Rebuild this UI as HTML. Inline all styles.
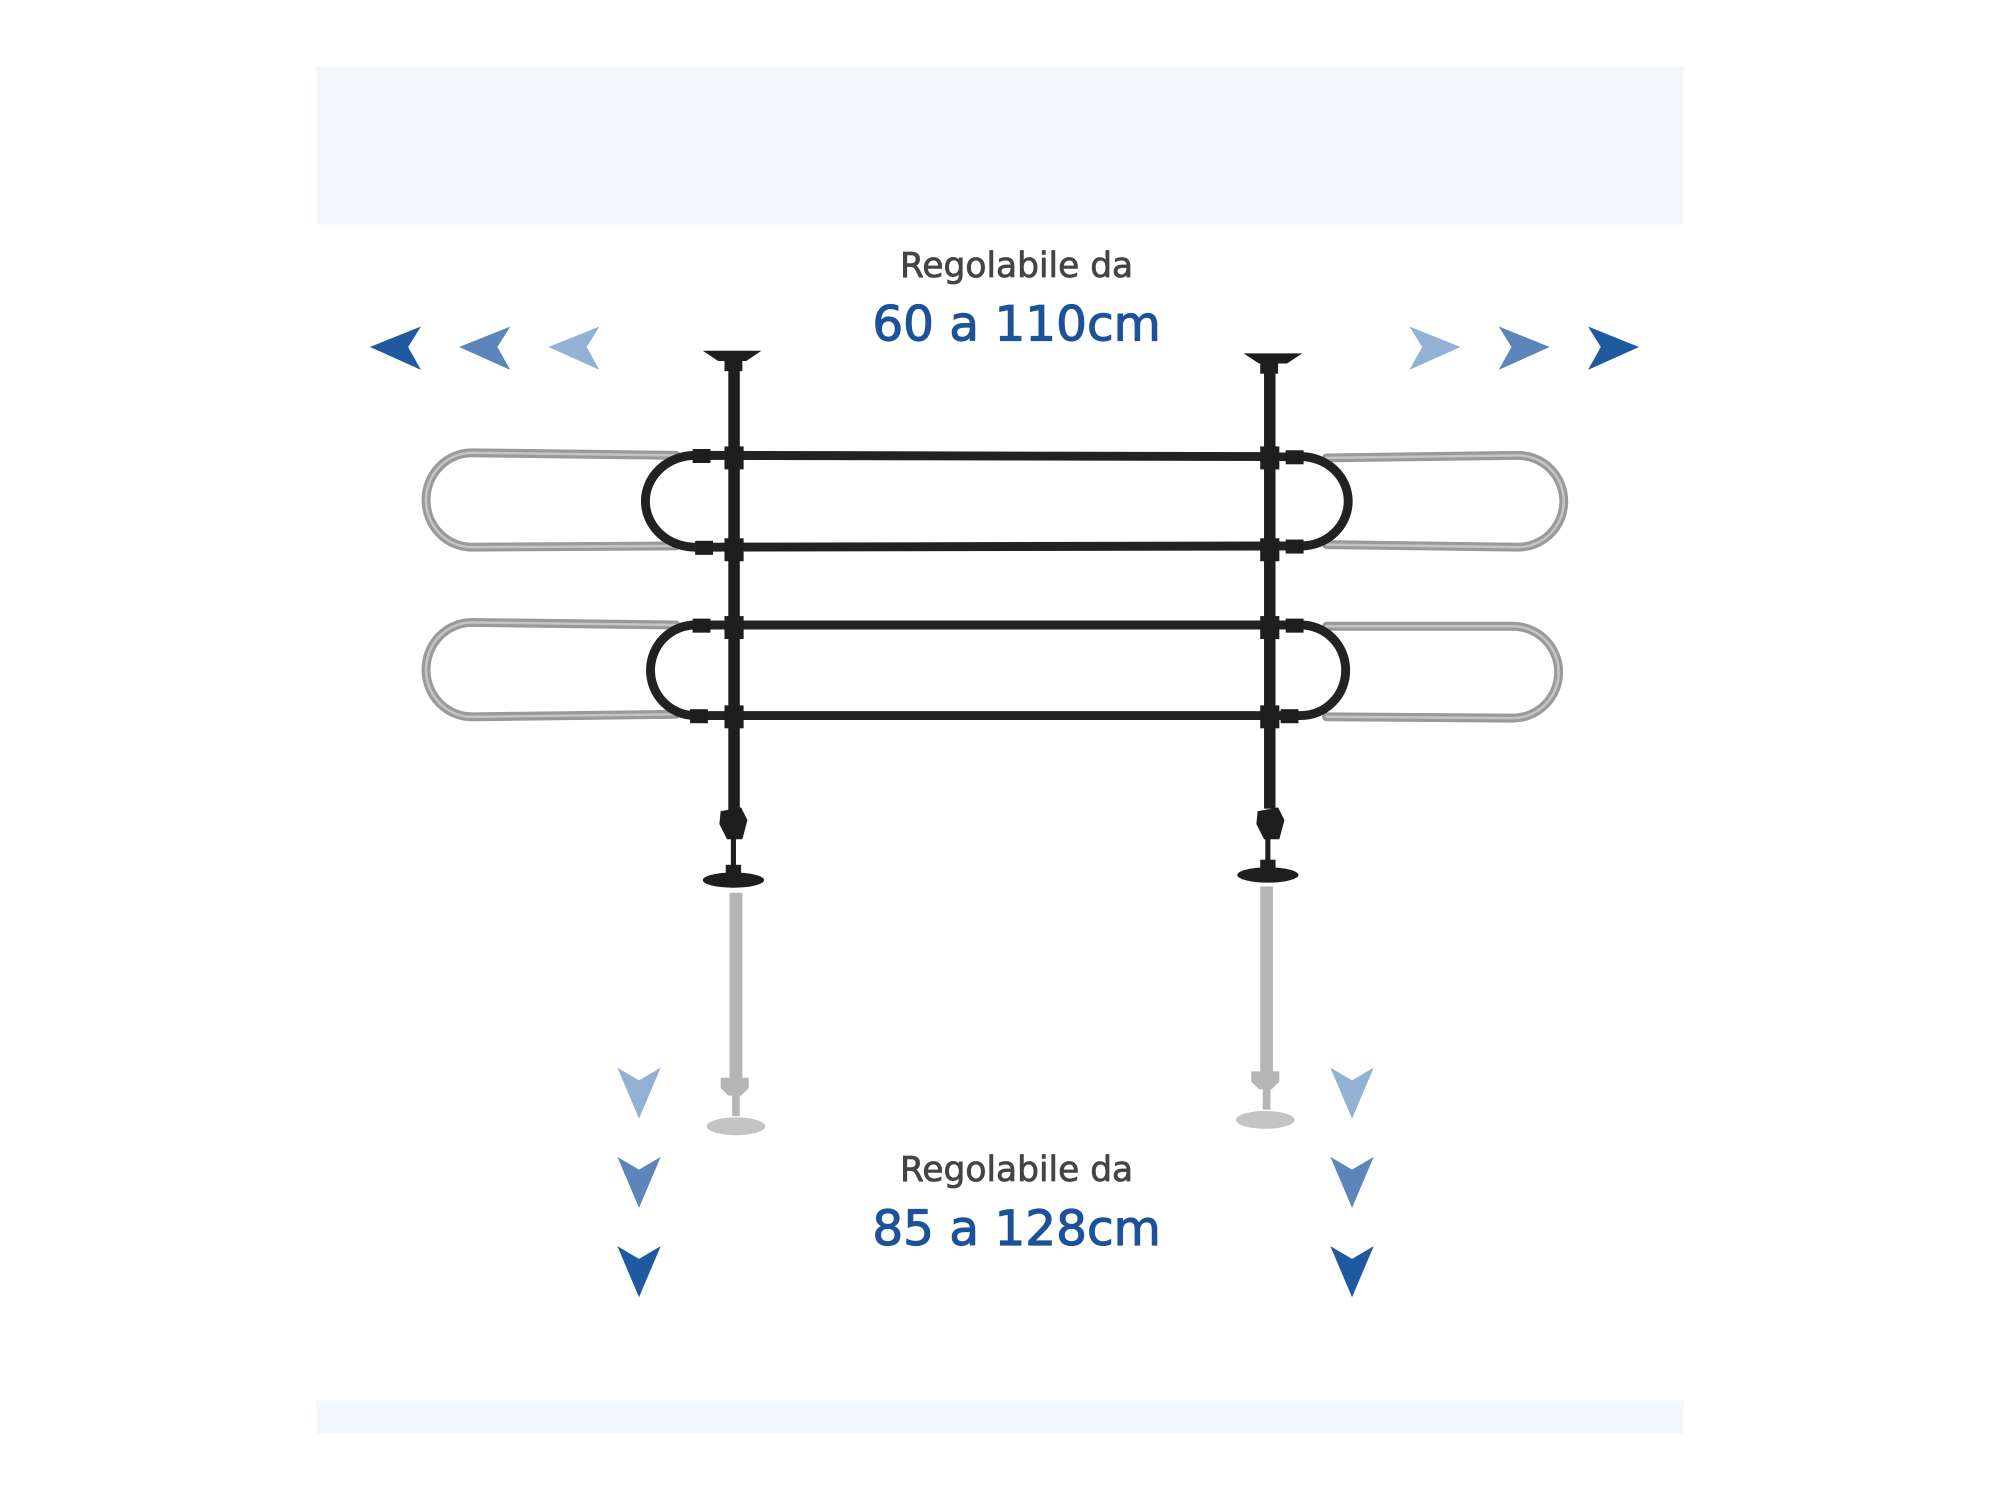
<!DOCTYPE html>
<html><head><style>
html,body{margin:0;padding:0;background:#fff;width:2000px;height:1500px;overflow:hidden}
svg{display:block}
text{font-family:"DejaVu Sans","Liberation Sans",sans-serif;text-anchor:middle}
</style></head><body>
<svg width="2000" height="1500" viewBox="0 0 1568 1176" xmlns="http://www.w3.org/2000/svg">
<rect x="248" y="52" width="1072" height="124" fill="#f2f7fc"/>
<rect x="248" y="1098" width="1072" height="26" fill="#f2f7fc"/>

<text x="797" y="217" font-size="27" fill="#444" stroke="#444" stroke-width="0.6">Regolabile da</text>
<text x="797" y="267" font-size="38" fill="#1c5299" stroke="#1c5299" stroke-width="0.9">60 a 110cm</text>
<text x="797" y="926" font-size="27" fill="#444" stroke="#444" stroke-width="0.6">Regolabile da</text>
<text x="797" y="976" font-size="38" fill="#1c5299" stroke="#1c5299" stroke-width="0.9">85 a 128cm</text>

<g>
<polygon points="290,272 330,256 320,272 330,290" fill="#1f5aa0"/>
<polygon points="360,272 400,256 390,272 400,290" fill="#5b85bb"/>
<polygon points="430,272 470,256 460,272 470,290" fill="#93b0d5"/>
<polygon points="1145,272 1105,256 1115,272 1105,290" fill="#93b0d5"/>
<polygon points="1215,272 1175,256 1185,272 1175,290" fill="#5b85bb"/>
<polygon points="1285,272 1245,256 1255,272 1245,290" fill="#1f5aa0"/>
</g>
<g>
<polygon points="501,877 484,837 501,847 518,837" fill="#93b0d5"/>
<polygon points="501,947 484,907 501,917 518,907" fill="#5b85bb"/>
<polygon points="501,1017 484,977 501,987 518,977" fill="#1f5aa0"/>
<polygon points="1060,877 1043,837 1060,847 1077,837" fill="#93b0d5"/>
<polygon points="1060,947 1043,907 1060,917 1077,907" fill="#5b85bb"/>
<polygon points="1060,1017 1043,977 1060,987 1077,977" fill="#1f5aa0"/>
</g>

<g fill="none" stroke-linecap="round">
<g stroke="#9a9a9a" stroke-width="7">
<path d="M530,357 L370,355 A36,37 0 0 0 370,429 L530,428"/>
<path d="M530,490 L370,488 A36,37 0 0 0 370,562 L530,560"/>
<path d="M1040,359 L1190,357 A36,36 0 0 1 1190,429 L1040,427"/>
<path d="M1040,491 L1186,491 A35,35 0 0 1 1186,563 L1040,562"/>
</g>
<g stroke="#c4c4c4" stroke-width="2">
<path d="M530,357 L370,355 A36,37 0 0 0 370,429 L530,428"/>
<path d="M530,490 L370,488 A36,37 0 0 0 370,562 L530,560"/>
<path d="M1040,359 L1190,357 A36,36 0 0 1 1190,429 L1040,427"/>
<path d="M1040,491 L1186,491 A35,35 0 0 1 1186,563 L1040,562"/>
</g>
</g>

<g fill="#b5b5b5">
<rect x="572" y="700" width="10" height="150"/>
<path d="M565,845 h22 v8 l-6,6 h-10 l-6,-6z"/>
<rect x="574" y="855" width="6" height="20"/>
<ellipse cx="577" cy="883" rx="23" ry="7" fill="#c4c4c4"/>
<rect x="988" y="695" width="10" height="148"/>
<path d="M981,840 h22 v8 l-6,6 h-10 l-6,-6z"/>
<rect x="990" y="850" width="6" height="20"/>
<ellipse cx="992" cy="878" rx="23" ry="7" fill="#c4c4c4"/>
</g>

<g fill="none" stroke="#222" stroke-width="7">
<line x1="545" y1="357" x2="1020" y2="358"/>
<line x1="545" y1="429" x2="1020" y2="428"/>
<line x1="545" y1="490" x2="1020" y2="490"/>
<line x1="545" y1="561" x2="1020" y2="561"/>
<path d="M545,357 A39,36 0 0 0 545,429"/>
<path d="M545,490 A35,35.5 0 0 0 545,561"/>
<path d="M1020,358 A37,35 0 0 1 1020,428"/>
<path d="M1020,490 A35,35.5 0 0 1 1020,561"/>
</g>
<g fill="#1e1e1e">
<rect x="571" y="282" width="9" height="360"/>
<path d="M551,275 h46 l-12,8 h-22z"/>
<rect x="568" y="281" width="14" height="10"/>
<rect x="991" y="284" width="9" height="350"/>
<path d="M975,277 h46 l-12,8 h-22z"/>
<rect x="988" y="283" width="14" height="10"/>
<rect x="568" y="350" width="15" height="18"/><rect x="568" y="422" width="15" height="18"/>
<rect x="568" y="483" width="15" height="18"/><rect x="568" y="553" width="15" height="18"/>
<rect x="988" y="350" width="15" height="18"/><rect x="988" y="422" width="15" height="18"/>
<rect x="988" y="483" width="15" height="18"/><rect x="988" y="553" width="15" height="18"/>
<rect x="543" y="352" width="14" height="11"/><rect x="545" y="424" width="14" height="11"/>
<rect x="543" y="485" width="14" height="11"/><rect x="541" y="556" width="14" height="11"/>
<rect x="1008" y="353" width="14" height="11"/><rect x="1008" y="423" width="14" height="11"/>
<rect x="1008" y="485" width="14" height="11"/><rect x="1004" y="556" width="14" height="11"/>
<path d="M565,636 l16,-3 l5,10 l-4,15 h-12 l-6,-12z"/>
<rect x="573" y="656" width="4" height="26"/>
<rect x="569" y="678" width="12" height="10"/>
<ellipse cx="575" cy="690" rx="24" ry="6"/>
<path d="M986,636 l16,-3 l5,10 l-4,15 h-12 l-6,-12z"/>
<rect x="992" y="656" width="4" height="22"/>
<rect x="988" y="674" width="12" height="10"/>
<ellipse cx="994" cy="686" rx="24" ry="6"/>
</g>
</svg>
</body></html>
